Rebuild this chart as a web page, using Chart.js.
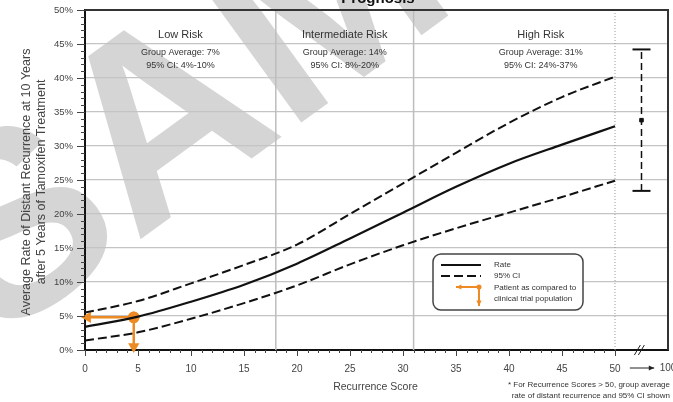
<!DOCTYPE html>
<html>
<head>
<meta charset="utf-8">
<script src="https://cdn.jsdelivr.net/npm/chart.js@4.4.0/dist/chart.umd.min.js"></script>
<style>
html, body { margin: 0; padding: 0; background: #fff; }
</style>
</head>
<body>
<canvas id="graph1" width="673" height="402"></canvas>
<script>
// recurrence score vs rate (%)
const scores = [0, 5, 10, 15, 20, 25, 30, 35, 40, 45, 50];
const rateValues = [3.4, 4.9, 7.1, 9.6, 12.7, 16.4, 20.2, 24.0, 27.4, 30.2, 32.9];
const upperCI = [5.5, 7.2, 9.8, 12.5, 15.5, 20.0, 24.5, 29.0, 33.4, 37.2, 40.2];
const lowerCI = [1.4, 2.6, 4.6, 6.9, 9.5, 12.6, 15.4, 17.9, 20.2, 22.5, 24.9];

// group shown for scores > 50
const highScorePos = 52.5;
const highScoreBar = [23.4, 33.8, 44.2]; // low, mid, high

// patient
const patientScore = 4.6;
const patientRate = 4.8;

const riskBounds = [18, 31];
const riskNames = ["Low Risk", "Intermediate Risk", "High Risk"];
const riskCenters = [9, 24.5, 43];
const riskAverages = ["Group Average: 7%", "Group Average: 14%", "Group Average: 31%"];
const riskCIs = ["95% CI: 4%-10%", "95% CI: 8%-20%", "95% CI: 24%-37%"];

const FONT = "'Liberation Sans', Arial, sans-serif";
const ORANGE = "#ee8a23";

function toPoints(xs, ys) {
  return xs.map((v, i) => ({ x: v, y: ys[i] }));
}

function arrowLine(c, x1, y1, x2, y2) {
  c.beginPath();
  c.moveTo(x1, y1);
  c.lineTo(x2, y2);
  c.stroke();
  const ang = Math.atan2(y2 - y1, x2 - x1);
  c.beginPath();
  c.moveTo(x2, y2);
  c.lineTo(x2 - 6 * Math.cos(ang - 0.45), y2 - 6 * Math.sin(ang - 0.45));
  c.lineTo(x2 - 6 * Math.cos(ang + 0.45), y2 - 6 * Math.sin(ang + 0.45));
  c.closePath();
  c.fill();
}

const decorations = {
  id: "decorations",
  beforeDraw(chart) {
    const c = chart.ctx;
    c.save();
    c.fillStyle = "#fff";
    c.fillRect(0, 0, chart.width, chart.height);
    // watermark
    c.translate(-5, 345);
    c.rotate(-36 * Math.PI / 180);
    c.font = "bold 260px " + FONT;
    c.fillStyle = "#d5d5d5";
    c.fillText("SAMPLE", 0, 0);
    c.restore();
  },
  beforeDatasetsDraw(chart) {
    const c = chart.ctx;
    const a = chart.chartArea;
    const x = chart.scales.x;
    c.save();
    c.strokeStyle = "#bdbdbd";
    c.lineWidth = 1.5;
    riskBounds.forEach(v => {
      const px = x.getPixelForValue(v);
      c.beginPath();
      c.moveTo(px, a.top);
      c.lineTo(px, a.bottom);
      c.stroke();
    });
    c.setLineDash([1, 2]);
    c.strokeStyle = "#9a9a9a";
    c.lineWidth = 1;
    const p50 = x.getPixelForValue(50);
    c.beginPath();
    c.moveTo(p50, a.top);
    c.lineTo(p50, a.bottom);
    c.stroke();
    c.setLineDash([]);

    c.textAlign = "center";
    c.textBaseline = "middle";
    c.fillStyle = "#333";
    riskNames.forEach((n, i) => {
      const px = x.getPixelForValue(riskCenters[i]);
      c.font = "11px " + FONT;
      c.fillText(n, px, 35);
      c.font = "9px " + FONT;
      c.fillText(riskAverages[i], px, 53);
      c.fillText(riskCIs[i], px, 66);
    });
    c.restore();
  },
  afterDraw(chart) {
    const c = chart.ctx;
    const a = chart.chartArea;
    const x = chart.scales.x;
    const y = chart.scales.y;
    c.save();

    // top and right frame
    c.strokeStyle = "#333";
    c.lineWidth = 2;
    c.beginPath();
    c.moveTo(a.left, a.top);
    c.lineTo(a.right, a.top);
    c.lineTo(a.right, a.bottom);
    c.stroke();

    // tick marks
    c.strokeStyle = "#444";
    c.lineWidth = 1;
    for (let v = 0; v <= 50; v++) {
      const py = Math.round(y.getPixelForValue(v)) + 0.5;
      const len = v % 5 === 0 ? 8 : 4;
      c.beginPath();
      c.moveTo(a.left - len, py);
      c.lineTo(a.left, py);
      c.stroke();
      const px = Math.round(x.getPixelForValue(v)) + 0.5;
      const lenx = v % 5 === 0 ? 6 : 3;
      c.beginPath();
      c.moveTo(px, a.bottom);
      c.lineTo(px, a.bottom + lenx);
      c.stroke();
    }

    // axis break
    const bx = x.getPixelForValue(52.3);
    c.lineWidth = 1;
    c.strokeStyle = "#222";
    [-2, 2].forEach(d => {
      c.beginPath();
      c.moveTo(bx + d - 3, a.bottom + 5);
      c.lineTo(bx + d + 3, a.bottom - 5);
      c.stroke();
    });

    // arrow from 50 to 100, and the 100 label
    c.fillStyle = "#222";
    c.strokeStyle = "#222";
    arrowLine(c, x.getPixelForValue(51.4), 368, x.getPixelForValue(53.7), 368);
    c.fillStyle = "#444";
    c.font = "10px " + FONT;
    c.textAlign = "center";
    c.textBaseline = "middle";
    c.fillText("100", x.getPixelForValue(55), 368);

    // legend box
    const lx = 433, ly = 254, lw = 150, lh = 56;
    c.fillStyle = "#fff";
    c.strokeStyle = "#444";
    c.lineWidth = 1.5;
    c.beginPath();
    c.roundRect(lx, ly, lw, lh, 8);
    c.fill();
    c.stroke();
    c.strokeStyle = "#111";
    c.lineWidth = 2;
    c.beginPath();
    c.moveTo(441, 265);
    c.lineTo(481, 265);
    c.stroke();
    c.setLineDash([9, 4]);
    c.beginPath();
    c.moveTo(441, 276);
    c.lineTo(481, 276);
    c.stroke();
    c.setLineDash([]);
    c.strokeStyle = ORANGE;
    c.fillStyle = ORANGE;
    c.lineWidth = 2;
    arrowLine(c, 479, 287, 456, 287);
    arrowLine(c, 479, 287, 479, 306);
    c.beginPath();
    c.arc(479, 287, 2.5, 0, Math.PI * 2);
    c.fill();
    c.fillStyle = "#333";
    c.font = "8px " + FONT;
    c.textAlign = "left";
    c.textBaseline = "middle";
    c.fillText("Rate", 494, 265);
    c.fillText("95% CI", 494, 276);
    c.fillText("Patient as compared to", 494, 288);
    c.fillText("clinical trial population", 494, 299);

    // title (cut at top)
    c.fillStyle = "#111";
    c.font = "bold 15px " + FONT;
    c.textAlign = "center";
    c.textBaseline = "alphabetic";
    c.fillText("Prognosis", 378, 3);

    // axis titles
    c.fillStyle = "#444";
    c.font = "10.5px " + FONT;
    c.textBaseline = "middle";
    c.fillText("Recurrence Score", x.getPixelForValue(27.4), 387);
    c.save();
    c.translate(27, 182);
    c.rotate(-Math.PI / 2);
    c.font = "12.5px " + FONT;
    c.fillText("Average Rate of Distant Recurrence at 10 Years", 0, 0);
    c.fillText("after 5 Years of Tamoxifen Treatment", 0, 15);
    c.restore();

    // footnote
    c.font = "8px " + FONT;
    c.textAlign = "right";
    c.fillStyle = "#333";
    c.fillText("* For Recurrence Scores > 50, group average", 670, 385);
    c.fillText("rate of distant recurrence and 95% CI shown", 670, 396);
    c.restore();
  }
};

const ctx = document.getElementById("graph1").getContext("2d");

new Chart(ctx, {
  type: "line",
  data: {
    datasets: [
      {
        label: "Rate",
        data: toPoints(scores, rateValues),
        borderColor: "#111",
        borderWidth: 2.2,
        pointRadius: 0,
        cubicInterpolationMode: "monotone",
      },
      {
        label: "95% CI upper",
        data: toPoints(scores, upperCI),
        borderColor: "#111",
        borderWidth: 2,
        borderDash: [9, 4],
        pointRadius: 0,
        cubicInterpolationMode: "monotone",
      },
      {
        label: "95% CI lower",
        data: toPoints(scores, lowerCI),
        borderColor: "#111",
        borderWidth: 2,
        borderDash: [9, 4],
        pointRadius: 0,
        cubicInterpolationMode: "monotone",
      },
      {
        label: "High score CI",
        data: [{ x: highScorePos, y: highScoreBar[0] }, { x: highScorePos, y: highScoreBar[2] }],
        borderColor: "#111",
        borderWidth: 1.5,
        borderDash: [7, 4],
        pointStyle: "line",
        pointRadius: 9,
        pointBorderWidth: 2,
        pointBorderColor: "#111",
      },
      {
        label: "High score average",
        data: [{ x: highScorePos, y: highScoreBar[1] }],
        showLine: false,
        pointStyle: "rect",
        pointRadius: 2.5,
        pointBackgroundColor: "#111",
        pointBorderColor: "#111",
      },
      {
        label: "Patient rate",
        data: [{ x: patientScore, y: patientRate }, { x: 0.25, y: patientRate }],
        borderColor: ORANGE,
        borderWidth: 2.5,
        pointStyle: ["circle", "triangle"],
        pointRotation: [0, 270],
        pointRadius: [4.5, 4],
        pointBackgroundColor: ORANGE,
        pointBorderColor: ORANGE,
        clip: false,
      },
      {
        label: "Patient score",
        data: [{ x: patientScore, y: patientRate }, { x: patientScore, y: 0.5 }],
        borderColor: ORANGE,
        borderWidth: 2.5,
        pointStyle: ["circle", "triangle"],
        pointRotation: [0, 180],
        pointRadius: [4.5, 4],
        pointBackgroundColor: ORANGE,
        pointBorderColor: ORANGE,
        clip: false,
      },
    ],
  },
  options: {
    responsive: false,
    animation: false,
    layout: { autoPadding: false, padding: { top: 10, right: 5, left: 0, bottom: 0 } },
    plugins: {
      legend: { display: false },
      tooltip: { enabled: false },
    },
    scales: {
      x: {
        type: "linear",
        min: 0,
        max: 55,
        afterFit: s => {
          s.height = 52;
          s.paddingLeft = 0;
          s.paddingRight = 0;
        },
        ticks: {
          stepSize: 5,
          autoSkip: false,
          maxRotation: 0,
          padding: 13,
          color: "#444",
          font: { family: FONT, size: 10 },
          callback: v => (v <= 50 ? v : ""),
        },
        grid: { display: false, drawTicks: false },
        border: { color: "#111", width: 2 },
      },
      y: {
        min: 0,
        max: 50,
        afterFit: s => {
          s.width = 85;
          s.paddingTop = 0;
          s.paddingBottom = 0;
        },
        ticks: {
          stepSize: 5,
          padding: 12,
          color: "#444",
          font: { family: FONT, size: 9.5 },
          callback: v => v + "%",
        },
        grid: { color: "#c4c4c4", lineWidth: 1.2, drawTicks: false },
        border: { color: "#111", width: 2 },
      },
    },
  },
  plugins: [decorations],
});
</script>
</body>
</html>
